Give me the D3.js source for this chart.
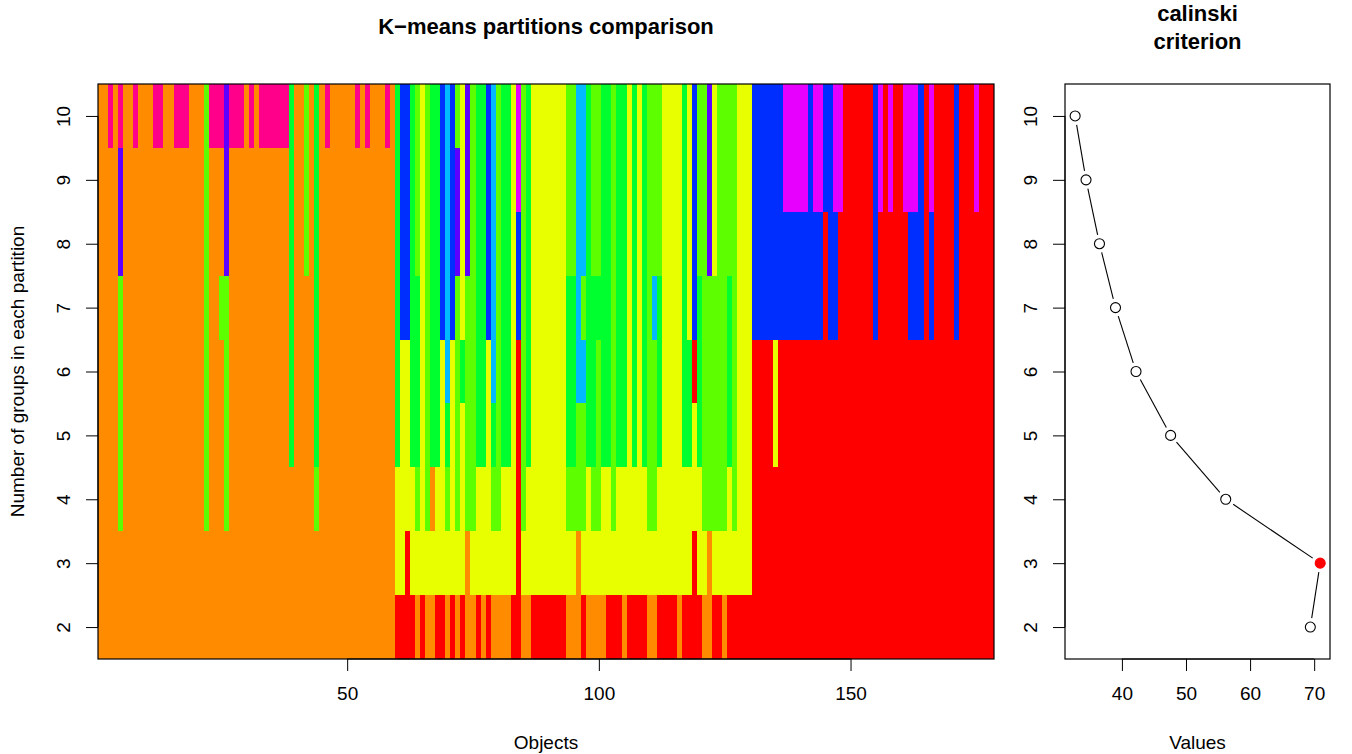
<!DOCTYPE html>
<html>
<head>
<meta charset="utf-8">
<script src="https://cdn.jsdelivr.net/npm/d3@7"></script>
<style>
  body { margin: 0; background: #fff; }
  text { font-family: "Liberation Sans", Arial, Helvetica, sans-serif; fill: #000; }
</style>
</head>
<body>
<svg id="chart" width="1352" height="754"></svg>
<script>
// partitions, top row first: each membership string gives one letter per partition (k = 10 ... 2)
const groupCounts = [10, 9, 8, 7, 6, 5, 4, 3, 2];

// one string per object (1..178), letters = group colour in each partition
const memberships = [
  "OOOOOOOOO","OOOOOOOOO","KOOOOOOOO","OOOOOOOOO","KPPLLLLOO","OOOOOOOOO","OOOOOOOOO","KOOOOOOOO","OOOOOOOOO","OOOOOOOOO",
  "OOOOOOOOO","KOOOOOOOO","KOOOOOOOO","OOOOOOOOO","OOOOOOOOO","KOOOOOOOO","KOOOOOOOO","KOOOOOOOO","OOOOOOOOO","OOOOOOOOO",
  "OOOOOOOOO","LLLLLLLOO","KOOOOOOOO","KOOOOOOOO","KOOLOOOOO","PPPLLLLOO","KOOOOOOOO","KOOOOOOOO","KOOOOOOOO","OOOOOOOOO",
  "KOOOOOOOO","OOOOOOOOO","KOOOOOOOO","KOOOOOOOO","KOOOOOOOO","KOOOOOOOO","KOOOOOOOO","KOOOOOOOO","GGGGGGOOO","OOOOOOOOO",
  "OOOOOOOOO","LLLOOOOOO","OOOOOOOOO","GGGGGGLOO","OOOOOOOOO","KOOOOOOOO","OOOOOOOOO","OOOOOOOOO","OOOOOOOOO","OOOOOOOOO",
  "OOOOOOOOO","KOOOOOOOO","OOOOOOOOO","KOOOOOOOO","OOOOOOOOO","OOOOOOOOO","OOOOOOOOO","KOOOOOOOO","OOOOOOOOO","GGGGGGYYR",
  "BBBBYYYYR","BBBBYYYRR","GGGGGGYYR","LLLGGGLYO","YYYYYYYYR","LLLLLLLYO","GGGGGGOYO","GGGGGGYYR","BBBBYYYYR","CCCCCGLYO",
  "BBBBYYYYR","LPPLLLLYO","YYYYGYYYR","PPPLLLLOO","LLLLLLLYO","GGGGGGYYR","GGGGGGYYO","BBBBYYYYR","CCCCCGLYO","LLLLLLLYO",
  "GGGGGGYYO","GGGGGGYYO","YYYYYYYYR","MMBBRRRRR","LLLLLLLYO","GGGGGGYYO","YYYYYYYYR","YYYYYYYYR","YYYYYYYYR","YYYYYYYYR",
  "YYYYYYYYR","YYYYYYYYR","YYYYYYYYR","LLLGGGLYO","LLLGGGLYO","CCCCCLLOO","CCCLCLLYR","GGGGGGYYO","LLLGGGLYO","LLLGLLLYO",
  "GGGGGGYYO","GGGGGGYYR","LLLLLLLYR","GGGGGGYYR","GGGGGGYYO","YYYYYYYYR","GGGGGGYYR","YYYYYYYYR","GGGGGGYYR","LLLLLLLYO",
  "LLLCLLLYO","LLLGGGYYR","YYYYYYYYR","YYYYYYYYR","YYYYYYYYR","YYYYYYYYO","GGGGGGYYR","YYYYGGYYR","BBBBRYYRR","LLLGGGYYR",
  "LLLLLLLYO","PPPLLLLOO","YYYLLLLYR","LLLLLLLYR","LLLLLLLYO","LLLGGGYYR","LLLLLLLYR","YYYYYYYYR","YYYYYYYYR","YYYYYYYYR",
  "BBBBRRRRR","BBBBRRRRR","BBBBRRRRR","BBBBRRRRR","BBBBYYRRR","BBBBRRRRR","MMBBRRRRR","MMBBRRRRR","MMBBRRRRR","MMBBRRRRR",
  "MMBBRRRRR","BBBBRRRRR","MMBBRRRRR","MMBBRRRRR","BBRRRRRRR","BBBBRRRRR","MMBBRRRRR","MMRRRRRRR","RRRRRRRRR","RRRRRRRRR",
  "RRRRRRRRR","RRRRRRRRR","RRRRRRRRR","RRRRRRRRR","BBBBRRRRR","MMRRRRRRR","RRRRRRRRR","MMRRRRRRR","RRRRRRRRR","RRRRRRRRR",
  "MMRRRRRRR","MMBBRRRRR","MMBBRRRRR","BBBBRRRRR","RRRRRRRRR","MMBBRRRRR","RRRRRRRRR","RRRRRRRRR","RRRRRRRRR","RRRRRRRRR",
  "BBBBRRRRR","RRRRRRRRR","RRRRRRRRR","RRRRRRRRR","MMRRRRRRR","RRRRRRRRR","RRRRRRRRR","RRRRRRRRR"
];

// rainbow(11) colours used by the groups
const palette = {
  R: "#FF0000", O: "#FF8B00", Y: "#E8FF00", L: "#5DFF00", G: "#00FF2E",
  C: "#00B9FF", B: "#002EFF", P: "#5D00FF", M: "#E800FF", K: "#FF008B"
};

const calinskiK = [2, 3, 4, 5, 6, 7, 8, 9, 10];
const calinskiValues = [69.4, 70.94, 56.2, 47.6, 42.2, 39.0, 36.5, 34.4, 32.7];

const objectTicks = [50, 100, 150];
const valueTicks = [40, 50, 60, 70];
const groupTicks = [2, 3, 4, 5, 6, 7, 8, 9, 10];

const svg = d3.select("#chart");
const nObj = memberships.length;

// ---- left panel: cascade image
const x = d3.scaleLinear().domain([0.5, nObj + 0.5]).range([98, 994]);
const y = d3.scaleLinear().domain([1.5, 10.5]).range([659, 84]);

// merge runs of equal colour per row
const cells = [];
groupCounts.forEach((k, j) => {
  let start = 1;
  for (let i = 2; i <= nObj + 1; i++) {
    if (i > nObj || memberships[i - 1][j] !== memberships[start - 1][j]) {
      cells.push({ k: k, from: start, to: i - 1, code: memberships[start - 1][j] });
      start = i;
    }
  }
});

svg.append("g")
  .attr("shape-rendering", "crispEdges")
  .selectAll("rect")
  .data(cells)
  .join("rect")
    .attr("x", d => x(d.from - 0.5))
    .attr("y", d => y(d.k + 0.5))
    .attr("width", d => x(d.to + 0.5) - x(d.from - 0.5))
    .attr("height", d => y(d.k - 0.5) - y(d.k + 0.5))
    .attr("fill", d => palette[d.code]);

svg.append("rect")
  .attr("x", x.range()[0]).attr("y", y.range()[1])
  .attr("width", x.range()[1] - x.range()[0])
  .attr("height", y.range()[0] - y.range()[1])
  .attr("fill", "none").attr("stroke", "#000").attr("stroke-width", 1.2);

// axes (R style: axis line only between first and last tick)
function bottomAxis(scale, ticks, yPos) {
  const g = svg.append("g")
    .attr("transform", `translate(0,${yPos})`)
    .call(d3.axisBottom(scale).tickValues(ticks).tickSize(12).tickPadding(16).tickSizeOuter(0));
  g.select(".domain").attr("d", `M${scale(ticks[0])},0H${scale(ticks[ticks.length - 1])}`);
  g.selectAll("text").attr("font-size", 19).attr("font-family", null);
  return g;
}
function leftAxis(scale, ticks, xPos) {
  const g = svg.append("g")
    .attr("transform", `translate(${xPos},0)`)
    .call(d3.axisLeft(scale).tickValues(ticks).tickSize(12).tickSizeOuter(0));
  g.select(".domain").attr("d", `M0,${scale(ticks[0])}V${scale(ticks[ticks.length - 1])}`);
  g.selectAll("text")
    .attr("font-size", 19).attr("font-family", null)
    .attr("x", null).attr("dy", null)
    .attr("text-anchor", "middle")
    .attr("transform", "translate(-28,0) rotate(-90)");
  return g;
}

bottomAxis(x, objectTicks, 659);
leftAxis(y, groupTicks, 98);

svg.append("text")
  .attr("x", 546).attr("y", 34)
  .attr("text-anchor", "middle").attr("font-size", 22).attr("font-weight", "bold")
  .text("K\u2212means partitions comparison");

svg.append("text")
  .attr("x", 546).attr("y", 749)
  .attr("text-anchor", "middle").attr("font-size", 19)
  .text("Objects");

svg.append("text")
  .attr("transform", "translate(24,371.5) rotate(-90)")
  .attr("text-anchor", "middle").attr("font-size", 19)
  .text("Number of groups in each partition");

// ---- right panel: calinski criterion
const vx = d3.scaleLinear().domain([31.12, 72.47]).range([1065, 1330]);
const vy = y.copy();

svg.append("rect")
  .attr("x", vx.range()[0]).attr("y", vy.range()[1])
  .attr("width", vx.range()[1] - vx.range()[0])
  .attr("height", vy.range()[0] - vy.range()[1])
  .attr("fill", "none").attr("stroke", "#000").attr("stroke-width", 1.2);

bottomAxis(vx, valueTicks, 659);
leftAxis(vy, groupTicks, 1065);

const pts = calinskiK.map((k, i) => ({ k: k, v: calinskiValues[i], px: vx(calinskiValues[i]), py: vy(k) }));
const best = d3.maxIndex(pts, d => d.v);

// type = "b": segments with gaps around the points
const gap = 9;
const segs = d3.pairs(pts).map(([a, b]) => {
  const dx = b.px - a.px, dy = b.py - a.py, len = Math.hypot(dx, dy);
  const ux = dx / len, uy = dy / len;
  return { x1: a.px + ux * gap, y1: a.py + uy * gap, x2: b.px - ux * gap, y2: b.py - uy * gap, ok: len > 2 * gap };
}).filter(s => s.ok);

svg.append("g").selectAll("line")
  .data(segs)
  .join("line")
    .attr("x1", d => d.x1).attr("y1", d => d.y1)
    .attr("x2", d => d.x2).attr("y2", d => d.y2)
    .attr("stroke", "#000").attr("stroke-width", 1.1);

svg.append("g").selectAll("circle")
  .data(pts)
  .join("circle")
    .attr("cx", d => d.px).attr("cy", d => d.py).attr("r", 5)
    .attr("fill", (d, i) => i === best ? "#FF0000" : "#fff")
    .attr("stroke", (d, i) => i === best ? "#FF0000" : "#000")
    .attr("stroke-width", 1.1);

svg.append("text")
  .attr("x", 1197.5).attr("y", 21)
  .attr("text-anchor", "middle").attr("font-size", 22).attr("font-weight", "bold")
  .text("calinski");
svg.append("text")
  .attr("x", 1197.5).attr("y", 49)
  .attr("text-anchor", "middle").attr("font-size", 22).attr("font-weight", "bold")
  .text("criterion");

svg.append("text")
  .attr("x", 1197.5).attr("y", 749)
  .attr("text-anchor", "middle").attr("font-size", 19)
  .text("Values");
</script>
</body>
</html>
